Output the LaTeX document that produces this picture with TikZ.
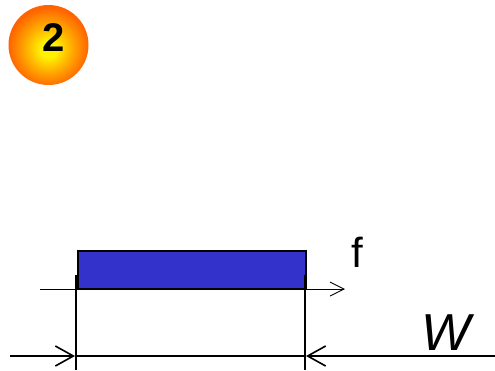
\documentclass[tikz,border=0pt]{standalone}
\usepackage{fontspec}
\setmainfont{Liberation Sans}
\usetikzlibrary{arrows.meta}
\definecolor{boxblue}{HTML}{3333CC}
\definecolor{ballorange}{HTML}{FF6400}
\definecolor{ballmid}{HTML}{FFA800}
\definecolor{ballyellow}{HTML}{FFF200}
\pgfdeclareradialshading{ballshade}{\pgfpoint{0bp}{-3bp}}{color(0bp)=(ballyellow); color(5bp)=(ballyellow); color(15bp)=(ballmid); color(25bp)=(ballorange); color(50bp)=(ballorange)}
\begin{document}
\begin{tikzpicture}[x=1pt,y=-1pt,
  thinarrow/.style={line width=0.9pt,-{Straight Barb[length=14pt,width=14pt,line width=0.9pt]}},
  bigarrow/.style={line width=1.8pt,-{Straight Barb[length=18pt,width=20pt,line width=1.6pt]}},
  dimline/.style={line width=1.8pt},
  lbl/.style={inner sep=0pt,anchor=center}]
\useasboundingbox (0,0) rectangle (495,370);
% badge
\shade[shading=ballshade] (48.5,45) circle[radius=40];
\node[lbl] (num) at (54,37.5) {\fontsize{40}{40}\selectfont\bfseries 2};
% blue bar
\draw[fill=boxblue,line width=1.8pt] (78,251) rectangle (306,289);
% frequency axis
\coordinate (fa) at (40,289);
\coordinate (fb) at (345,289);
\draw[thinarrow] (fa) -- (fb);
\node[lbl] (f) at (357,252) {\fontsize{42}{42}\selectfont f};
% vertical limits
\coordinate (l1) at (76,275);
\coordinate (l2) at (76,370);
\coordinate (r1) at (305,275);
\coordinate (r2) at (305,370);
\draw[dimline] (l1) -- (l2);
\draw[dimline] (r1) -- (r2);
% bottom dimension line
\coordinate (b0) at (10,356);
\coordinate (bl) at (75,356);
\coordinate (br) at (306,356);
\coordinate (b1) at (495,356);
\draw[bigarrow] (b0) -- (bl);
\draw[bigarrow] (b1) -- (br);
\draw[dimline] (bl) -- (br);
\node[lbl] (w) at (446,333) {\fontsize{52}{52}\selectfont\itshape W};
\end{tikzpicture}
\end{document}
